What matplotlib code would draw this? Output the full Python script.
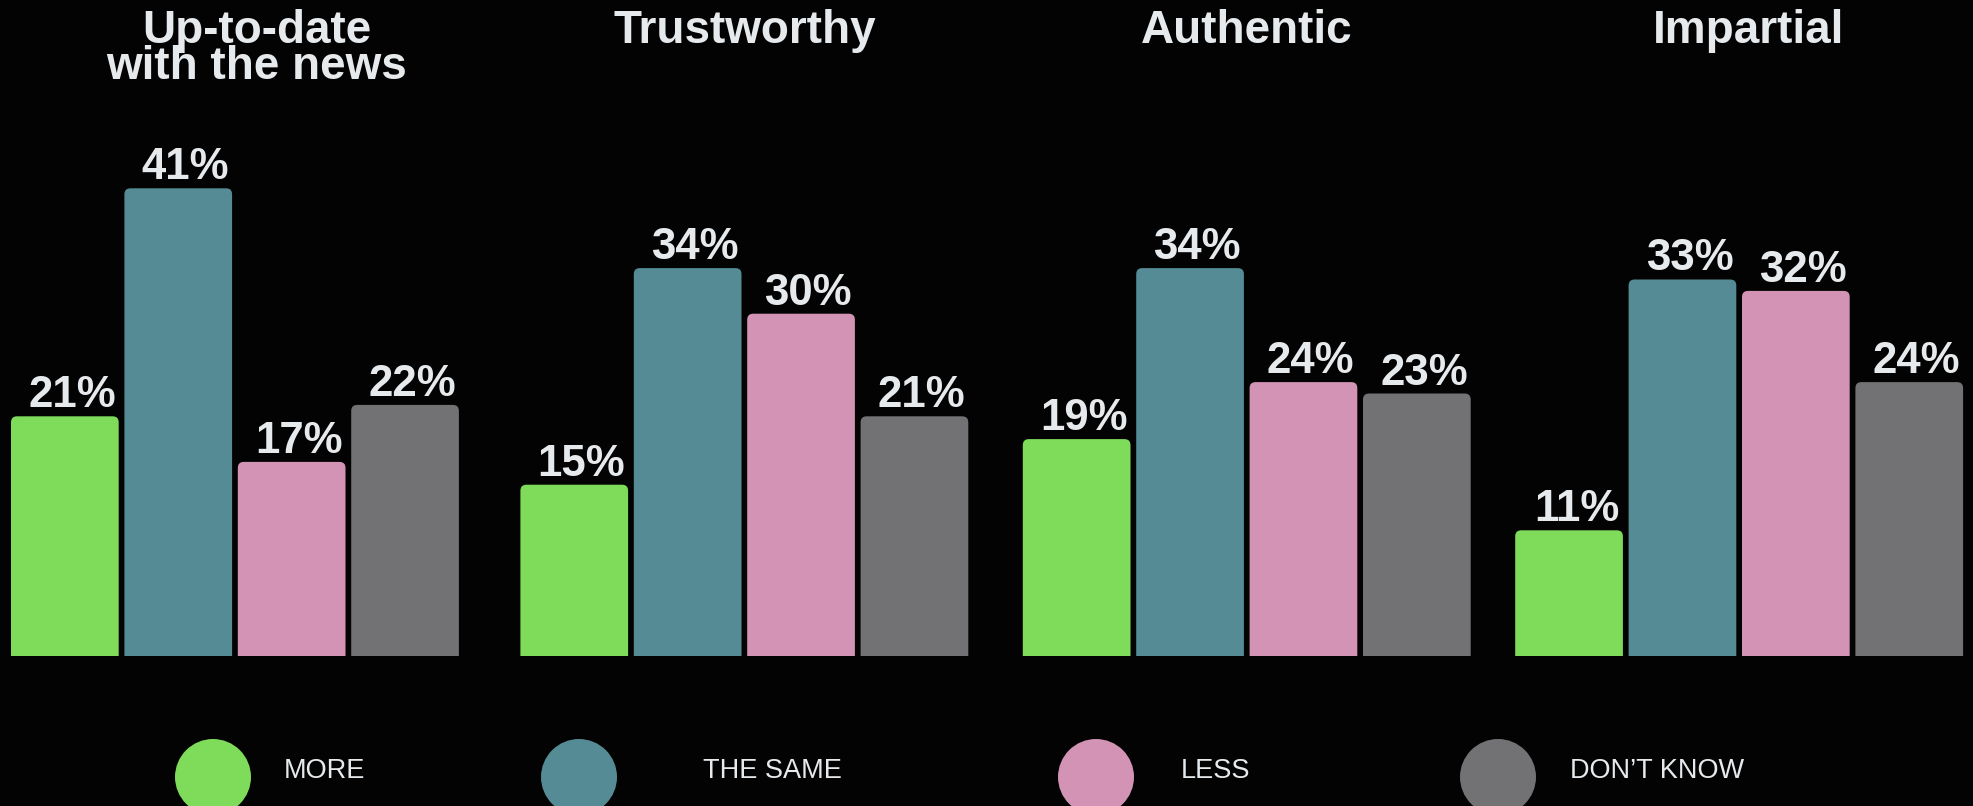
import matplotlib
matplotlib.use("Agg")
import matplotlib.pyplot as plt
from matplotlib.patches import FancyBboxPatch, Circle

# data
titles = ["Up-to-date\nwith the news", "Trustworthy", "Authentic", "Impartial"]
answers = ["MORE", "THE SAME", "LESS", "DON\u2019T KNOW"]
more = [21, 15, 19, 11]
same = [41, 34, 34, 33]
less = [17, 30, 24, 32]
dont_know = [22, 21, 23, 24]

colors = ["#7fdb5a", "#548b94", "#d393b5", "#727274"]
bg = "#030303"
txt = "#e6eaed"

W, H = 1973, 806
baseline_px = 655.7
px_per_pct = 11.4
group_left = [11, 520.4, 1022.8, 1515.2]
bar_w = 107.7
bar_step = 113.4
title_dx = [22, 0, 0, 9]
radius = 6


def main():
    plt.rcParams["font.family"] = ["Liberation Sans", "DejaVu Sans"]
    fig = plt.figure(figsize=(W / 100, H / 100), dpi=100, facecolor=bg)

    # bars axes: x in pixels, y in percent
    ax = fig.add_axes([0, (H - baseline_px) / H, 1, baseline_px / H])
    ax.set_xlim(0, W)
    ax.set_ylim(0, baseline_px / px_per_pct)
    ax.axis("off")

    series = [more, same, less, dont_know]
    for g in range(len(titles)):
        for s, vals in enumerate(series):
            v = vals[g]
            x = group_left[g] + s * bar_step
            patch = FancyBboxPatch(
                (x, -2), bar_w, v + 2,
                boxstyle=f"round,pad=0,rounding_size={radius}",
                mutation_aspect=1 / px_per_pct,
                facecolor=colors[s], edgecolor="none",
            )
            ax.add_patch(patch)
            ax.annotate(f"{v}%", xy=(x + bar_w, v), xytext=(-3, 9),
                        textcoords="offset pixels", ha="right", va="baseline",
                        fontsize=31.5, fontweight="bold", color=txt)

    # overlay in pixel coords for titles and legend
    ov = fig.add_axes([0, 0, 1, 1])
    ov.set_xlim(0, W)
    ov.set_ylim(H, 0)
    ov.axis("off")
    ov.patch.set_alpha(0)

    for g, t in enumerate(titles):
        cx = group_left[g] + (3 * bar_step + bar_w) / 2 + title_dx[g]
        for i, line in enumerate(t.split("\n")):
            ov.text(cx, 43 + i * 36, line, ha="center", va="baseline",
                    fontsize=33, fontweight="bold", color=txt)

    dot_x = [213, 579, 1096, 1498]
    label_x = [284, 703, 1181, 1570]
    for i, a in enumerate(answers):
        ov.add_patch(Circle((dot_x[i], 777), 38, facecolor=colors[i],
                            edgecolor="none"))
        ov.text(label_x[i], 778, a, ha="left", va="baseline",
                fontsize=19.5, color=txt)

    fig.savefig("out.png", dpi=100, facecolor=bg)


if __name__ == "__main__":
    main()
